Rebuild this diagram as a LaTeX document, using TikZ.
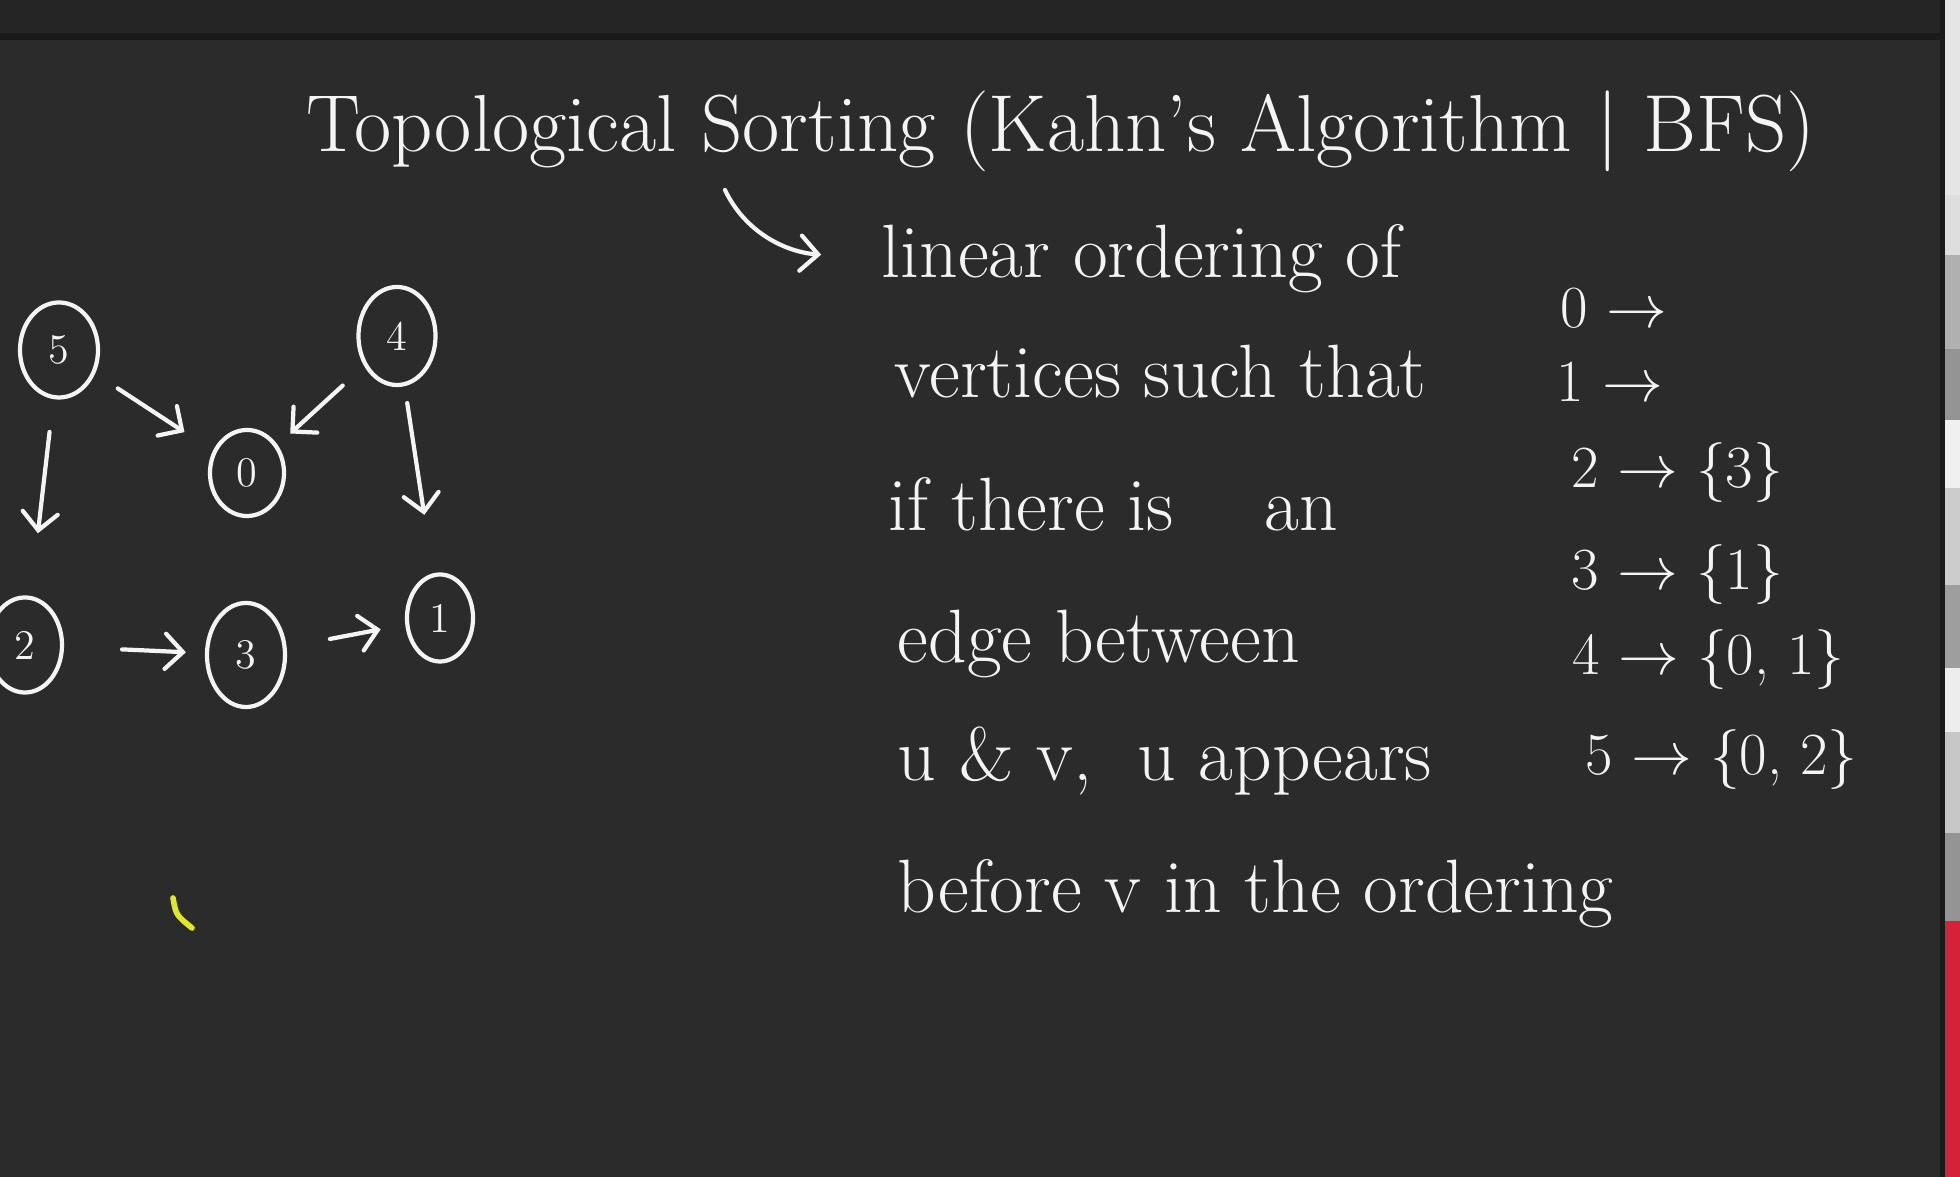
\documentclass[tikz,border=0pt]{standalone}
\usepackage{fontspec}
\usetikzlibrary{arrows.meta,shapes.geometric}

\definecolor{board}{RGB}{43,43,43}
\definecolor{topbar}{RGB}{37,37,37}
\definecolor{barline}{RGB}{26,26,26}
\definecolor{chalk}{RGB}{244,244,244}
\definecolor{marker}{RGB}{222,232,40}
\definecolor{tabred}{RGB}{214,34,56}

\begin{document}
\begin{tikzpicture}[x=0.01cm,y=-0.01cm,
  every node/.style={text=chalk,inner sep=0pt},
  hand/.style={anchor=base west,font=\fontsize{21.5}{26}\selectfont},
  adj/.style={anchor=base west,font=\fontsize{17}{20}\selectfont},
  vtx/.style={draw=chalk,ellipse,line width=1.2pt,minimum width=0.76cm,minimum height=0.94cm,font=\fontsize{12}{14}\selectfont},
  link/.style={draw=chalk,line width=1.2pt,line cap=round,-{Straight Barb[length=5pt,width=10pt,line cap=round]}}]
\clip (0,0) rectangle (1960,1177);
\fill[board] (0,0) rectangle (1960,1177);
\fill[topbar] (0,0) rectangle (1945,33);
\fill[barline] (0,33) rectangle (1945,40);
\fill[barline] (1940,0) rectangle (1945,1177);
% screen edge on the right
\foreach \ya/\yb/\g in {0/195/10,195/255/13,255/349/31,349/420/42,420/488/6,488/585/20,585/668/38,668/732/7,732/833/22,833/921/42}
  \fill[black!\g] (1945,\ya) rectangle (1960,\yb);
\fill[tabred] (1945,921) rectangle (1960,1177);

% title and definition
\node[hand,font=\fontsize{23}{28}\selectfont] (title) at (306,152) {Topological Sorting (Kahn's Algorithm | BFS)};
\coordinate (sortfoot) at (725,190);
\node[hand] (def1) at (881,278) {linear ordering of};
\node[hand] (def2) at (894,398) {vertices such that};
\node[hand] (def3) at (888,531) {if there is\hspace{1.2em}an};
\node[hand] (def4) at (897,663) {edge between};
\node[hand] (def5) at (897,781) {u \& v,\hspace{0.6em}u appears};
\node[hand] (def6) at (897,913) {before v in the ordering};
\draw[link,shorten >=0.6cm] (sortfoot) .. controls (745,232) and (785,252) .. (def1.west);

% adjacency list
\node[adj] (adj0) at (1560,328) {0 $\rightarrow$};
\node[adj] (adj1) at (1556,402) {1 $\rightarrow$};
\node[adj] (adj2) at (1571,488) {2 $\rightarrow$ \{3\}};
\node[adj] (adj3) at (1571,590) {3 $\rightarrow$ \{1\}};
\node[adj] (adj4) at (1572,675) {4 $\rightarrow$ \{0, 1\}};
\node[adj] (adj5) at (1585,775) {5 $\rightarrow$ \{0, 2\}};

% graph
\node[vtx,minimum width=0.78cm,minimum height=0.95cm] (v5) at (59,350) {5};
\node[vtx,minimum width=0.77cm,minimum height=0.98cm] (v4) at (397,336) {4};
\node[vtx,minimum width=0.74cm,minimum height=0.86cm] (v0) at (247,473) {0};
\node[vtx,minimum width=0.74cm,minimum height=0.95cm] (v2) at (25,645) {2};
\node[vtx,minimum width=0.78cm,minimum height=1.04cm] (v3) at (246,655) {3};
\node[vtx,minimum width=0.66cm,minimum height=0.87cm] (v1) at (440,618) {1};
\draw[link,shorten <=0.27cm,shorten >=0.34cm] (v5) -- (v0);
\draw[link,shorten <=0.29cm,shorten >=0.17cm] (v4) -- (v0);
\draw[link,shorten <=0.33cm,shorten >=0.63cm] (v5) -- (v2);
\draw[link,shorten <=0.17cm,shorten >=0.59cm] (v4) -- (v1);
\draw[link,shorten <=0.58cm,shorten >=0.19cm] (v2) -- (v3);
\draw[link,shorten <=0.44cm,shorten >=0.25cm] (v3) -- (v1);

\draw[marker,line width=1.6pt,line cap=round] (173,898) .. controls (176,915) .. (192,928);
\end{tikzpicture}
\end{document}
